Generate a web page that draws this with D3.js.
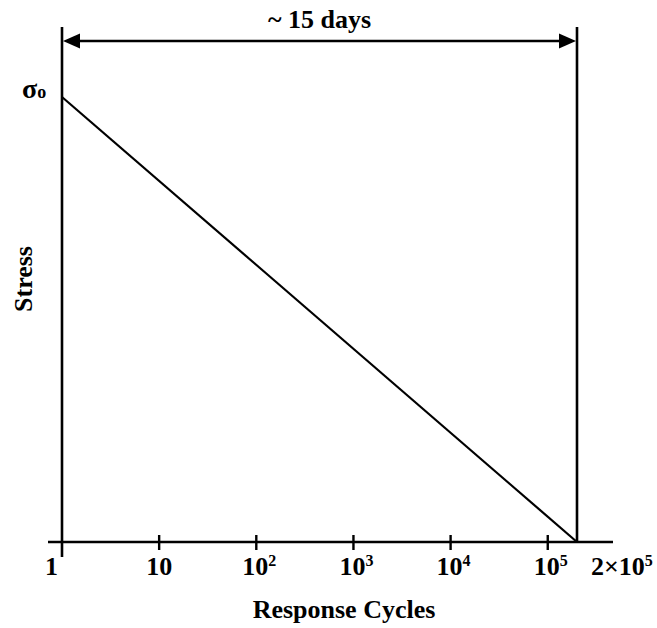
<!DOCTYPE html>
<html>
<head>
<meta charset="utf-8">
<script src="https://cdn.jsdelivr.net/npm/d3@7"></script>
<style>
  html, body { margin: 0; padding: 0; background: #fff; }
  svg text { font-family: "Liberation Serif", "Times New Roman", serif; font-weight: bold; fill: #000; }
</style>
</head>
<body>
<svg id="chart" width="657" height="628"></svg>
<script>
// ---- data ----
const tickValues = [1, 10, 100, 1000, 10000, 100000, 200000];
const tickBase   = ["1", "10", "10", "10", "10", "10", "2×10"];
const tickExp    = ["", "", "2", "3", "4", "5", "5"];
const cycles     = [1, 200000];      // response cycles
const stress     = [1, 0];           // stress in units of σ0
const spanLabel  = "~ 15 days";
const xTitle     = "Response Cycles";
const yTitle     = "Stress";
const sigmaLabel = "σ";
const sigmaSub   = "o";

// ---- layout ----
const svg = d3.select("#chart");
const axisY = 542, topY = 27, arrowY = 41;
const x = d3.scaleLog().domain([1, 200000]).range([62, 577]);
const y = d3.scaleLinear().domain([0, 1]).range([axisY, 97]);

// horizontal axis line
svg.append("line").attr("x1", 48).attr("x2", 613).attr("y1", axisY).attr("y2", axisY)
  .attr("stroke", "#000").attr("stroke-width", 2.6);

// ticks (interior ones cross the axis)
svg.selectAll("line.tick").data(tickValues.slice(1, 6)).enter().append("line")
  .attr("class", "tick")
  .attr("x1", d => x(d)).attr("x2", d => x(d))
  .attr("y1", axisY - 7).attr("y2", axisY + 8)
  .attr("stroke", "#000").attr("stroke-width", 2.4);

// vertical boundary lines
svg.append("line").attr("x1", x(cycles[0])).attr("x2", x(cycles[0]))
  .attr("y1", topY).attr("y2", axisY + 15)
  .attr("stroke", "#000").attr("stroke-width", 2.6);
svg.append("line").attr("x1", x(cycles[1])).attr("x2", x(cycles[1]))
  .attr("y1", topY).attr("y2", axisY)
  .attr("stroke", "#000").attr("stroke-width", 2.6);

// stress line
const line = d3.line().x(d => x(d[0])).y(d => y(d[1]));
svg.append("path").datum(cycles.map((c, i) => [c, stress[i]]))
  .attr("d", line).attr("fill", "none").attr("stroke", "#000").attr("stroke-width", 2.2);

// double arrow
const xl = x(cycles[0]) + 1, xr = x(cycles[1]) - 1, ah = 17, aw = 7.5;
svg.append("line").attr("x1", xl + ah - 2).attr("x2", xr - ah + 2)
  .attr("y1", arrowY).attr("y2", arrowY).attr("stroke", "#000").attr("stroke-width", 2.6);
svg.append("path").attr("d", `M${xl},${arrowY} L${xl + ah},${arrowY - aw} L${xl + ah},${arrowY + aw} Z`).attr("fill", "#000");
svg.append("path").attr("d", `M${xr},${arrowY} L${xr - ah},${arrowY - aw} L${xr - ah},${arrowY + aw} Z`).attr("fill", "#000");

// span label
svg.append("text").attr("x", (x(cycles[0]) + x(cycles[1])) / 2).attr("y", 28)
  .attr("text-anchor", "middle").style("font-size", "26px").text(spanLabel);

// tick labels
const lbl = svg.selectAll("text.tl").data(tickValues).enter().append("text")
  .attr("class", "tl")
  .attr("y", 575)
  .style("font-size", "26px")
  .attr("text-anchor", (d, i) => i === 0 ? "end" : (i === tickValues.length - 1 ? "start" : "middle"))
  .attr("x", (d, i) => i === 0 ? x(d) - 4 : (i === tickValues.length - 1 ? x(d) + 14 : x(d) + (tickExp[i] ? 3 : 0)));
lbl.append("tspan").text((d, i) => tickBase[i]);
lbl.append("tspan").attr("dy", -9).style("font-size", "16px").text((d, i) => tickExp[i]);

// axis titles
svg.append("text").attr("x", 344).attr("y", 618).attr("text-anchor", "middle")
  .style("font-size", "26px").text(xTitle);
svg.append("text").attr("transform", "translate(32,279) rotate(-90)").attr("text-anchor", "middle")
  .style("font-size", "26px").text(yTitle);

// sigma_0 label
const sg = svg.append("text").attr("x", 22).attr("y", y(1) + 1).style("font-size", "28px");
sg.append("tspan").text(sigmaLabel);
sg.append("tspan").style("font-size", "18px").text(sigmaSub);
</script>
</body>
</html>
